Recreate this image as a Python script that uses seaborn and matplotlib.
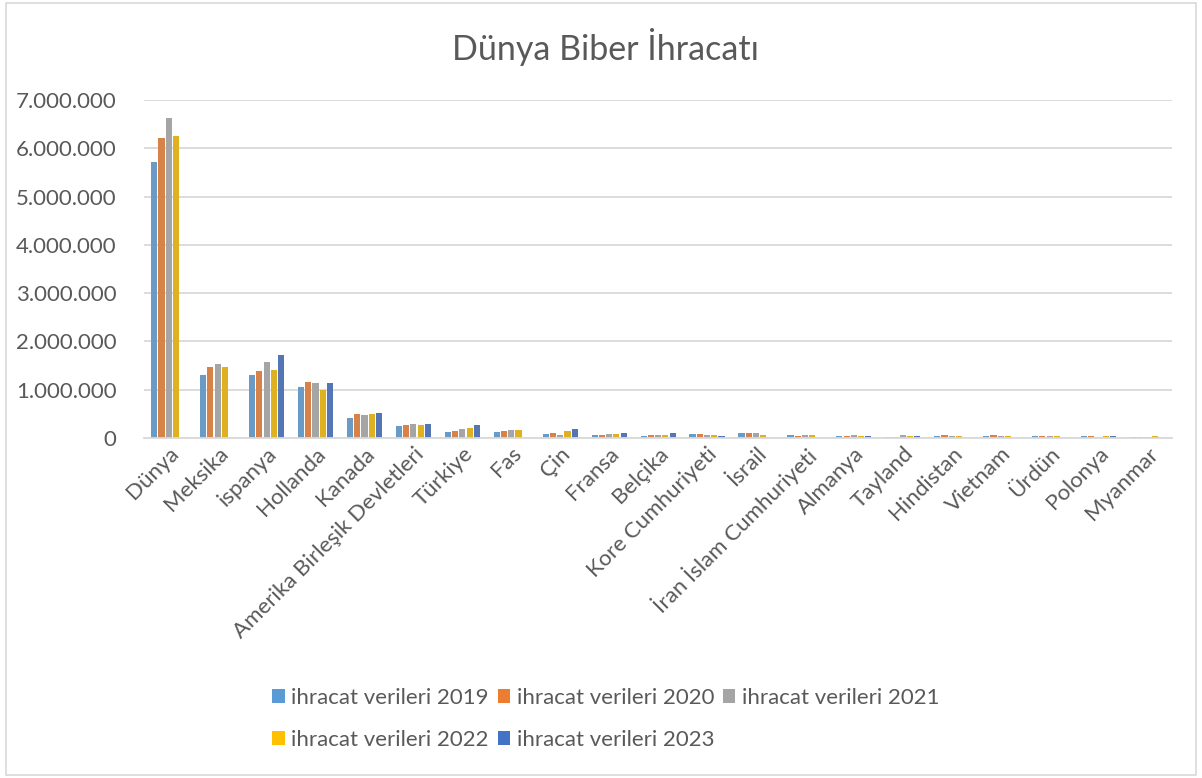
import numpy as np
import pandas as pd
import matplotlib
matplotlib.use("Agg")
import matplotlib.pyplot as plt
import seaborn as sns
from matplotlib.ticker import FuncFormatter
from matplotlib.patches import Rectangle, Patch

# -----------------------------
# Data (tonnes)
# -----------------------------
countries = ["Dünya", "Meksika", "ispanya", "Hollanda", "Kanada",
             "Amerika Birleşik Devletleri", "Türkiye", "Fas", "Çin", "Fransa",
             "Belçika", "Kore Cumhuriyeti", "İsrail", "İran İslam Cumhuriyeti",
             "Almanya", "Tayland", "Hindistan", "Vietnam", "Ürdün", "Polonya",
             "Myanmar"]

years = ["ihracat verileri 2019", "ihracat verileri 2020", "ihracat verileri 2021",
         "ihracat verileri 2022", "ihracat verileri 2023"]

v2019 = [5717000, 1310000, 1300000, 1060000, 420000, 240000, 118000, 132000, 83000, 56000,
         49000, 83000, 111000, 56000, 42000, 20000, 42000, 49000, 49000, 35000, 20000]
v2020 = [6220000, 1470000, 1380000, 1150000, 500000, 260000, 146000, 139000, 111000, 62000,
         62000, 76000, 97000, 42000, 42000, 20000, 62000, 62000, 42000, 35000, 20000]
v2021 = [6620000, 1530000, 1570000, 1130000, 476000, 280000, 187000, 160000, 69000, 76000,
         62000, 69000, 97000, 62000, 62000, 70000, 42000, 49000, 42000, 20000, 20000]
v2022 = [6255000, 1476000, 1400000, 1000000, 503000, 262000, 200000, 174000, 139000, 76000,
         69000, 62000, 56000, 62000, 42000, 42000, 42000, 42000, 42000, 42000, 42000]
v2023 = [np.nan, np.nan, 1720000, 1145000, 510000, 280000, 260000, np.nan, 187000, 111000,
         97000, 49000, np.nan, np.nan, 42000, 35000, np.nan, np.nan, np.nan, 42000, np.nan]

colors = ["#5B9BD5", "#ED7D31", "#A5A5A5", "#FFC000", "#4472C4"]


def main():
    sns.set_style("white")
    plt.rcParams['font.family'] = ['Lato', 'DejaVu Sans']

    series = [v2019, v2020, v2021, v2022, v2023]
    frames = []
    for year, vals in zip(years, series):
        frames.append(pd.DataFrame({"country": countries, "year": year, "value": vals}))
    df = pd.concat(frames, ignore_index=True)

    fig = plt.figure(figsize=(12.02, 7.78), dpi=100)
    ax = fig.add_axes([0.12, 0.437, 0.855, 0.4345])

    sns.barplot(data=df, x="country", y="value", hue="year", order=countries,
                hue_order=years, palette=colors, width=0.74, gap=0.15,
                edgecolor="none", linewidth=0, ax=ax, legend=False)

    ax.set_ylim(0, 7000000)
    ax.set_yticks(np.arange(0, 7000001, 1000000))
    ax.yaxis.set_major_formatter(FuncFormatter(lambda v, p: f"{int(v):,}".replace(",", ".")))
    ax.grid(axis="y", color="#D9D9D9", linewidth=1.3)
    ax.set_axisbelow(True)
    for s in ["top", "right", "left"]:
        ax.spines[s].set_visible(False)
    ax.spines["bottom"].set_color("#D9D9D9")
    ax.spines["bottom"].set_linewidth(1.3)

    ax.tick_params(axis="both", length=0, labelcolor="#595959")
    ax.tick_params(axis="y", pad=20, labelsize=16)
    ax.tick_params(axis="x", pad=4, labelsize=16)
    plt.setp(ax.get_xticklabels(), rotation=45, ha="right", rotation_mode="anchor")
    ax.set_xlabel("")
    ax.set_ylabel("")

    fig.text(0.504, 0.94, "Dünya Biber İhracatı", ha="center", va="center",
             fontsize=24.5, color="#595959")

    # legend: 3 on first row, 2 on second (column-wise fill order)
    handles = [Patch(facecolor=c, edgecolor="none") for c in colors]
    order = [0, 3, 1, 4, 2]
    fig.legend([handles[i] for i in order], [years[i] for i in order],
               loc="center", bbox_to_anchor=(0.504, 0.076), ncol=3, frameon=False,
               fontsize=16, labelcolor="#595959", handlelength=0.55, handleheight=0.55,
               handletextpad=0.3, columnspacing=0.4, labelspacing=1.0)

    fig.patches.append(Rectangle((0.005, 0.004), 0.99, 0.992, transform=fig.transFigure,
                                 fill=False, edgecolor="#D9D9D9", linewidth=1.2))

    fig.savefig("out.png", dpi=100)


if __name__ == "__main__":
    main()
